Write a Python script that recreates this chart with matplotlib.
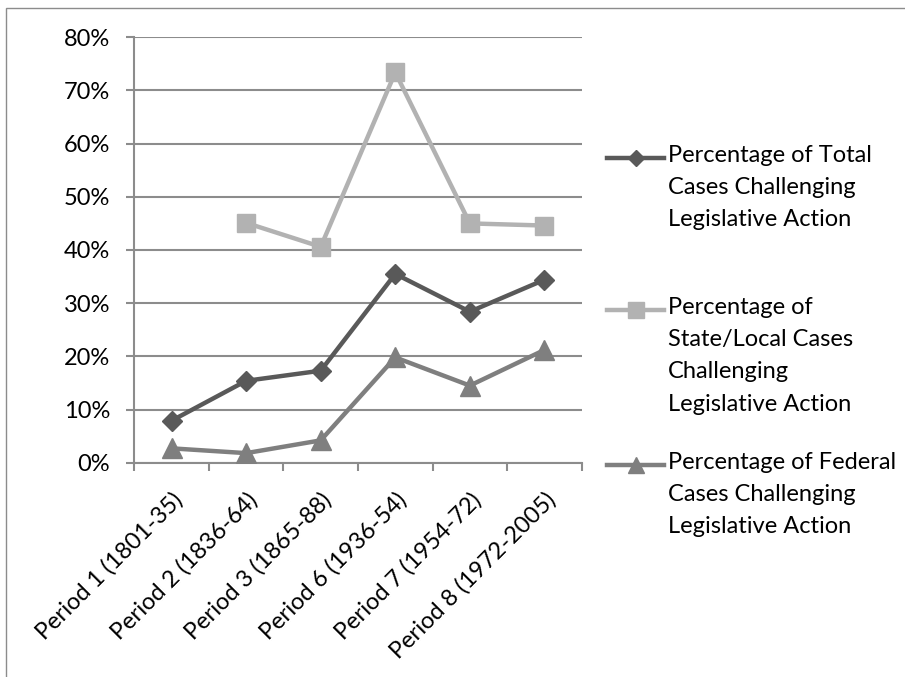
import matplotlib
matplotlib.use("Agg")
import matplotlib.pyplot as plt
from matplotlib.lines import Line2D
from matplotlib.patches import Rectangle
from matplotlib.ticker import PercentFormatter, FixedLocator, NullFormatter
import numpy as np

plt.rcParams['font.family'] = ['Lato', 'DejaVu Sans']

periods = ["Period 1 (1801-35)", "Period 2 (1836-64)", "Period 3 (1865-88)",
           "Period 6 (1936-54)", "Period 7 (1954-72)", "Period 8 (1972-2005)"]
total_pct = [7.9, 15.4, 17.3, 35.5, 28.4, 34.4]
state_local_pct = [np.nan, 45.1, 40.6, 73.4, 45.0, 44.6]
federal_pct = [2.7, 1.8, 4.2, 19.8, 14.5, 21.2]

series_labels = ["Percentage of Total\nCases Challenging\nLegislative Action",
                 "Percentage of\nState/Local Cases\nChallenging\nLegislative Action",
                 "Percentage of Federal\nCases Challenging\nLegislative Action"]
colors = ["#595959", "#b2b2b2", "#7f7f7f"]
markers = ["D", "s", "^"]
msizes = [10, 13, 14]
FS = 17

W, H = 905, 677
fig = plt.figure(figsize=(W / 100, H / 100), dpi=100)
fig.patch.set_facecolor("white")

# outer chart border
fig.add_artist(Rectangle((6 / W, -0.05), 1.2, (H - 8) / H + 0.05, transform=fig.transFigure,
                         fill=False, edgecolor="#8c8c8c", linewidth=1.0))

left, right, top, bottom = 134.3, 581.7, 37.3, 462.7
ax = fig.add_axes([left / W, 1 - bottom / H, (right - left) / W, (bottom - top) / H])

x = np.arange(len(periods))
for vals, c, m, ms in zip([total_pct, state_local_pct, federal_pct], colors, markers, msizes):
    ax.plot(x, vals, color=c, linewidth=3.2, marker=m, markersize=ms,
            markerfacecolor=c, markeredgecolor=c, zorder=3)

ax.set_xlim(-0.5, len(periods) - 0.5)
ax.set_ylim(0, 80)
ax.yaxis.set_major_locator(FixedLocator(np.arange(0, 81, 10)))
ax.yaxis.set_major_formatter(PercentFormatter(decimals=0))
ax.grid(axis="y", color="#8c8c8c", linewidth=1.5)
ax.set_axisbelow(True)

# category boundary ticks on x, labels centered on categories
ax.set_xticks(np.arange(-0.5, len(periods), 1.0))
ax.xaxis.set_major_formatter(NullFormatter())
ax.set_xticks(x, minor=True)
ax.set_xticklabels(periods, minor=True, rotation=45, ha="right", va="top",
                   rotation_mode="anchor", fontsize=FS)
ax.tick_params(axis="x", which="minor", length=0, pad=19)
ax.tick_params(axis="x", which="major", length=5.5, color="#8c8c8c", width=1.5)
ax.tick_params(axis="y", length=5.5, color="#8c8c8c", width=1.5, labelsize=FS, pad=12)

for s in ["top", "right"]:
    ax.spines[s].set_visible(False)
for s in ["left", "bottom"]:
    ax.spines[s].set_color("#8c8c8c")
    ax.spines[s].set_linewidth(1.5)

# legend drawn at right with marker aligned to first text line
legend_y = [158, 310, 465]
for lbl, c, m, ms, ly in zip(series_labels, colors, markers, msizes, legend_y):
    fig.add_artist(Line2D([607 / W, 664 / W], [1 - ly / H] * 2, transform=fig.transFigure,
                          color=c, linewidth=3.2))
    fig.add_artist(Line2D([635.5 / W], [1 - ly / H], transform=fig.transFigure,
                          color=c, marker=m, markersize=ms * 0.85, linestyle="none"))
    fig.text(668 / W, 1 - (ly - 13) / H, lbl, fontsize=FS, va="top", ha="left",
             linespacing=1.66, color="black")

fig.savefig("out.png", dpi=100)
